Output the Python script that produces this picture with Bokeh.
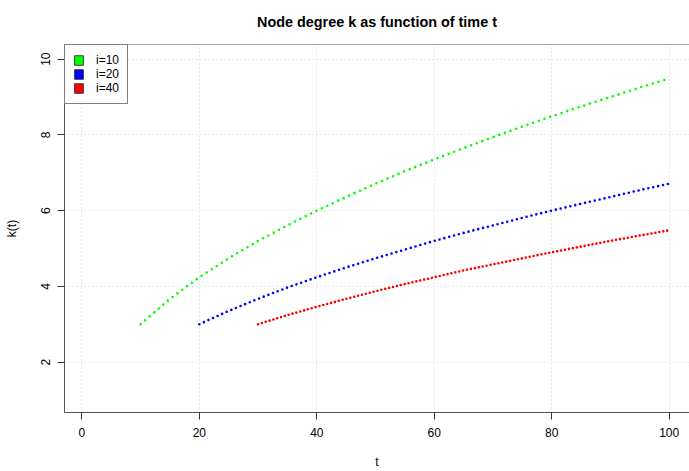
from bokeh.plotting import figure
from bokeh.models import Range1d, FixedTicker, Span, Legend, LegendItem
from bokeh.embed import file_html
from bokeh.resources import INLINE

# ---- data ----
t_i10 = [10, 15, 20, 25, 30, 35, 40, 45, 50, 55, 60, 65, 70, 75, 80, 85, 90, 95, 100]
k_i10 = [3.00, 3.67, 4.24, 4.74, 5.20, 5.61, 6.00, 6.36, 6.71, 7.04, 7.35, 7.65, 7.94,
         8.22, 8.49, 8.75, 9.00, 9.25, 9.49]

t_i20 = [20, 25, 30, 35, 40, 45, 50, 55, 60, 65, 70, 75, 80, 85, 90, 95, 100]
k_i20 = [3.00, 3.35, 3.67, 3.97, 4.24, 4.50, 4.74, 4.97, 5.20, 5.41, 5.61, 5.81, 6.00,
         6.18, 6.36, 6.54, 6.71]

t_i40 = [30, 35, 40, 45, 50, 55, 60, 65, 70, 75, 80, 85, 90, 95, 100]
k_i40 = [3.00, 3.24, 3.46, 3.67, 3.87, 4.06, 4.24, 4.42, 4.58, 4.74, 4.90, 5.05, 5.20,
         5.34, 5.48]

series_labels = ["i=10", "i=20", "i=40"]
series_colors = ["#00FF00", "#0000FF", "#FF0000"]
series_dash = ["0 6", "0 5", "0 4"]

x_ticks = [0, 20, 40, 60, 80, 100]
y_ticks = [2, 4, 6, 8, 10]

FONT = "Liberation Sans"
BOX = "#555555"
X_START, X_END = -2.96, 103.46
Y_START, Y_END = 0.668, 10.386

p = figure(width=689, height=471, output_backend="svg", toolbar_location=None,
           x_range=Range1d(X_START, X_END), y_range=Range1d(Y_START, Y_END),
           min_border_left=64, min_border_right=0, min_border_top=43, min_border_bottom=58,
           title="Node degree k as function of time t")

p.background_fill_color = "white"
p.border_fill_color = "white"
p.outline_line_color = None

p.title.text_font = FONT
p.title.text_font_size = "14.4px"
p.title.text_font_style = "bold"
p.title.text_color = "black"
p.title.align = "center"
p.title.vertical_align = "top"
p.title.standoff = 26

# axes
for ax in (p.xaxis[0], p.yaxis[0]):
    ax.axis_line_color = BOX
    ax.axis_line_width = 1
    ax.major_tick_line_color = "#333333"
    ax.major_tick_out = 7
    ax.major_tick_in = 0
    ax.minor_tick_line_color = None
    ax.major_label_text_font = FONT
    ax.major_label_text_font_size = "12px"
    ax.major_label_text_color = "black"
    ax.axis_label_text_font = FONT
    ax.axis_label_text_font_size = "12px"
    ax.axis_label_text_font_style = "normal"
    ax.axis_label_text_color = "black"

p.xaxis.ticker = FixedTicker(ticks=x_ticks)
p.yaxis.ticker = FixedTicker(ticks=y_ticks)
p.xaxis.axis_label = "t"
p.yaxis.axis_label = "k(t)"
p.xaxis.major_label_standoff = 8
p.yaxis.major_label_standoff = 7
p.yaxis.major_label_orientation = "vertical"
p.xaxis.axis_label_standoff = 15
p.yaxis.axis_label_standoff = 20

# grid (R grid(): lightgray dotted)
p.xgrid.ticker = FixedTicker(ticks=x_ticks)
p.ygrid.ticker = FixedTicker(ticks=y_ticks)
for g in (p.xgrid[0], p.ygrid[0]):
    g.grid_line_color = "#D3D3D3"
    g.grid_line_dash = "1 3"
    g.grid_line_width = 1

# top edge of the plot box
p.add_layout(Span(location=Y_END, dimension="width", line_color=BOX, line_width=1))

# dotted curves
for t, k, c, d in zip([t_i10, t_i20, t_i40], [k_i10, k_i20, k_i40], series_colors, series_dash):
    p.line(t, k, line_color=c, line_width=2.6, line_dash=d, line_cap="round")

# legend with filled boxes (legend-only renderers placed outside the visible range)
items = []
for lab, c in zip(series_labels, series_colors):
    r = p.quad(left=[-1000], right=[-999], top=[-1000], bottom=[-999], fill_color=c,
               line_color="#222222", line_width=0.8)
    items.append(LegendItem(label=lab, renderers=[r]))

legend = Legend(items=items, location="top_left", margin=0, padding=8, spacing=0,
                glyph_width=11, glyph_height=12, label_height=12, label_standoff=12,
                border_line_color="black", border_line_width=1,
                background_fill_color="white", background_fill_alpha=1,
                label_text_font=FONT, label_text_font_size="12px", label_text_color="black")
p.add_layout(legend)

open("out.html", "w").write(file_html(p, INLINE))
